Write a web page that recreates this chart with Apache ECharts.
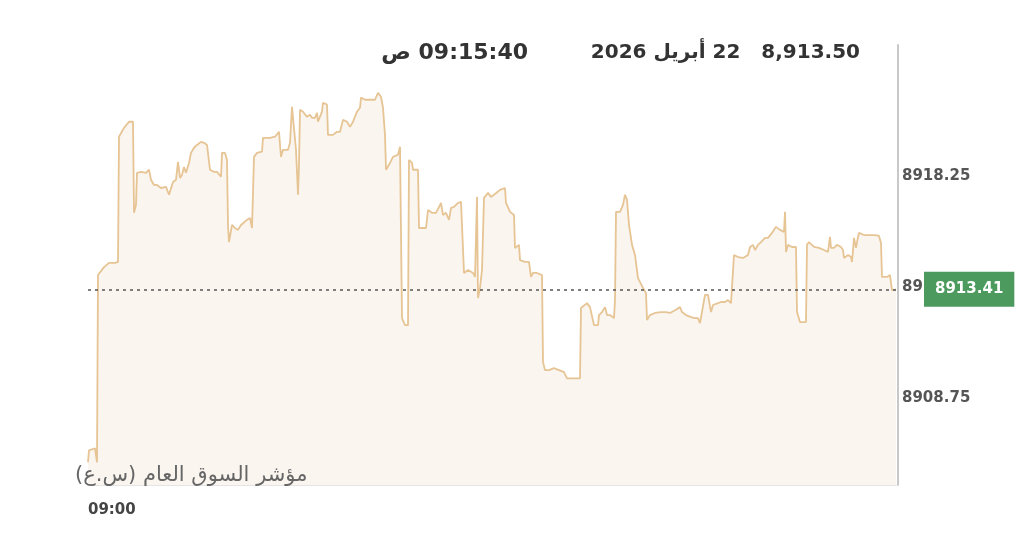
<!DOCTYPE html>
<html>
<head>
<meta charset="utf-8">
<script src="https://cdn.jsdelivr.net/npm/echarts@6/dist/echarts.min.js"></script>
<style>
  html, body { margin: 0; padding: 0; background: #fff; }
  #chart { width: 1024px; height: 554px; }
</style>
</head>
<body>
<div id="chart"></div>
<script>
// minutes since 09:00 and index value at that minute
const minutes = [
  0, 0.5, 3.5, 4.5, 5, 8, 10.5, 13.5, 15, 15.5, 18, 20.5, 22.5, 23, 24, 24.5, 26.5, 29, 30.5, 31.5,
  33, 34.5, 36.5, 39, 40.5, 41.5, 42.5, 44, 45, 46, 47, 48, 49, 50.5, 51.5, 53, 54.5, 56.5, 58, 59.5,
  60.5, 61, 63, 64.5, 66.5, 67, 68.5, 69.5, 70, 70.5, 72, 73.5, 75, 76.5, 77.5, 79.5, 81, 82, 82.5, 83,
  84.5, 87, 87.5, 91, 93.5, 95.5, 96.5, 97.5, 100, 101, 102, 103, 104, 105, 105.5, 106, 107.5, 109.5, 111, 112,
  113.5, 114.5, 115, 116, 117, 117.5, 118.5, 119.5, 120, 122.5, 124.5, 126, 127.5, 129.5, 131, 132.5, 134.5, 136, 136.5, 138.5,
  141, 143.5, 145, 146.5, 147.5, 148.5, 149, 151, 152.5, 155, 156, 157, 158.5, 160, 160.5, 162, 162.5, 165, 165.5, 167.5,
  169, 170, 172, 174, 176.5, 177.5, 179, 180.5, 181.5, 183, 185, 186.5, 187.5, 188, 190, 192.5, 193.5, 194.5, 195, 196,
  197, 198, 200, 201.5, 203, 206, 208.5, 209, 211, 213, 213.5, 215.5, 216, 218.5, 220.5, 221.5, 222.5, 224.5, 227, 227.5,
  228.5, 230.5, 233, 235.5, 238, 239.5, 242, 244, 246, 246.5, 249.5, 251, 253, 255, 255.5, 257, 258.5, 259.5, 261, 263,
  263.5, 264, 266, 267.5, 268.5, 269.5, 270.5, 272, 273.5, 275, 277.5, 279, 279.5, 281, 283.5, 286.5, 289, 291, 293.5, 296,
  297, 299, 301.5, 303.5, 305, 306, 307, 308.5, 310, 311.5, 312.5, 315, 316.5, 318.5, 320, 321.5, 323, 325, 327.5, 330,
  331, 332.5, 333.5, 335, 336.5, 338.5, 340, 342, 344, 346, 348, 348.5, 349, 350, 352, 354, 354.5, 356, 357.5, 359,
  359.5, 360.5, 363, 365.5, 368, 370, 371, 371.5, 373, 374.5, 376.5, 377.5, 378, 380, 381.5, 382, 383, 384, 385, 385.5,
  388, 391, 393.5, 395.5, 396.5, 397, 399.5, 401, 402, 404
];
const prices = [
  8906.02, 8906.53, 8906.62, 8906.02, 8914.02, 8914.36, 8914.54, 8914.54, 8914.58, 8919.93, 8920.31, 8920.57, 8920.57, 8916.68, 8917.02, 8918.39, 8918.43, 8918.39, 8918.52, 8918.09,
  8917.87, 8917.87, 8917.74, 8917.79, 8917.45, 8917.45, 8918.00, 8918.09, 8918.86, 8918.17, 8918.30, 8918.64, 8918.39, 8918.81, 8919.24, 8919.46, 8919.58, 8919.71, 8919.67, 8919.58,
  8919.50, 8918.52, 8918.43, 8918.43, 8918.22, 8919.24, 8919.24, 8918.94, 8916.16, 8915.43, 8916.16, 8916.03, 8915.95, 8916.16, 8916.16, 8916.38, 8916.46, 8916.03, 8916.03, 8919.07,
  8919.24, 8919.29, 8919.88, 8919.88, 8919.93, 8920.14, 8919.07, 8919.37, 8919.37, 8919.67, 8921.21, 8921.17, 8919.37, 8917.45, 8918.73, 8921.08, 8921.00, 8920.78, 8920.87, 8920.74,
  8920.74, 8920.95, 8920.57, 8920.57, 8921.00, 8921.38, 8921.42, 8921.30, 8920.01, 8920.01, 8920.14, 8920.14, 8920.65, 8920.57, 8920.35, 8920.57, 8921.00, 8921.17, 8921.60, 8921.51,
  8921.51, 8921.51, 8921.81, 8921.64, 8921.17, 8920.01, 8918.52, 8918.81, 8919.07, 8919.16, 8919.50, 8912.18, 8911.88, 8911.88, 8918.94, 8918.81, 8918.52, 8918.52, 8916.03, 8916.03,
  8916.03, 8916.80, 8916.68, 8916.68, 8917.10, 8916.59, 8916.68, 8916.38, 8916.89, 8916.93, 8917.10, 8917.15, 8917.23, 8914.11, 8914.24, 8914.11, 8913.94, 8917.36, 8913.04, 8913.47,
  8914.24, 8917.32, 8917.53, 8917.36, 8917.45, 8917.66, 8917.74, 8917.10, 8916.72, 8916.59, 8915.18, 8915.31, 8914.66, 8914.58, 8914.58, 8913.94, 8914.11, 8914.11, 8914.02, 8910.30,
  8909.96, 8909.96, 8910.04, 8909.96, 8909.87, 8909.61, 8909.61, 8909.61, 8909.61, 8912.61, 8912.82, 8912.65, 8911.88, 8911.88, 8912.31, 8912.44, 8912.65, 8912.31, 8912.31, 8912.18,
  8912.95, 8916.72, 8916.72, 8917.02, 8917.45, 8917.23, 8916.16, 8915.31, 8914.88, 8913.89, 8913.47, 8913.25, 8912.10, 8912.31, 8912.40, 8912.44, 8912.44, 8912.40, 8912.52, 8912.65,
  8912.44, 8912.31, 8912.22, 8912.18, 8912.18, 8911.97, 8912.05, 8913.17, 8913.17, 8912.44, 8912.74, 8912.82, 8912.87, 8912.87, 8912.95, 8912.82, 8914.88, 8914.79, 8914.75, 8914.88,
  8915.22, 8915.31, 8915.09, 8915.31, 8915.43, 8915.61, 8915.61, 8915.82, 8916.08, 8915.95, 8915.86, 8916.72, 8915.01, 8915.31, 8915.22, 8915.22, 8912.44, 8912.01, 8912.01, 8912.01,
  8915.31, 8915.43, 8915.22, 8915.18, 8915.09, 8915.01, 8915.65, 8915.18, 8915.18, 8915.31, 8915.22, 8915.09, 8914.75, 8914.88, 8914.79, 8914.58, 8915.61, 8915.18, 8915.65, 8915.82,
  8915.73, 8915.73, 8915.73, 8915.69, 8915.39, 8913.94, 8913.94, 8914.02, 8913.38, 8913.41
];

const yTicks = [8908.75, 8913.50, 8918.25];
const xTickMinutes = [0];
const xTickLabels = ['09:00'];

const lastPrice = prices[prices.length - 1];
const headerValue = '8,913.50';
const headerDate = '22 أبريل 2026';
const headerTime = '09:15:40 ص';
const indexName = 'مؤشر السوق العام (س.ع)';

// right-to-left embedding so the Arabic strings read in the right order
const rtl = s => '\u202B' + s + '\u202C';

const chart = echarts.init(document.getElementById('chart'));

const option = {
  animation: false,
  title: [
    {
      text: rtl(headerValue + '   ' + headerDate),
      right: 164,
      top: 43,
      padding: 0,
      textStyle: { fontFamily: 'DejaVu Sans', fontWeight: 'bold', fontSize: 20, color: '#333' }
    },
    {
      text: rtl(headerTime),
      right: 496,
      top: 42,
      padding: 0,
      textStyle: { fontFamily: 'DejaVu Sans', fontWeight: 'bold', fontSize: 22, color: '#333' }
    },
    {
      text: rtl(indexName),
      left: 75,
      top: 465,
      padding: 0,
      textStyle: { fontFamily: 'DejaVu Sans', fontWeight: 'normal', fontSize: 21, color: '#666' }
    }
  ],
  grid: { left: 88, right: 126, top: 45, bottom: 69 },
  xAxis: {
    type: 'value',
    min: 0,
    max: 405,
    axisLine: { onZero: false, lineStyle: { color: '#e4e4e4', width: 1 } },
    axisTick: { show: false },
    splitLine: { show: false },
    axisLabel: {
      customValues: xTickMinutes,
      formatter: v => xTickLabels[xTickMinutes.indexOf(v)] || '',
      align: 'left',
      margin: 18,
      fontFamily: 'DejaVu Sans',
      fontWeight: 'bold',
      fontSize: 15,
      color: '#444'
    }
  },
  yAxis: {
    type: 'value',
    position: 'right',
    min: 8905.05,
    max: 8923.85,
    axisLine: { show: true, onZero: false, lineStyle: { color: '#c8c8c8', width: 2 } },
    axisTick: { show: false },
    splitLine: { show: false },
    axisLabel: {
      customValues: yTicks,
      formatter: v => v.toFixed(2),
      margin: 4,
      fontFamily: 'DejaVu Sans',
      fontWeight: 'bold',
      fontSize: 15,
      color: '#555'
    }
  },
  series: [{
    type: 'line',
    data: minutes.map((m, i) => [m, prices[i]]),
    showSymbol: false,
    lineStyle: { color: '#e6c494', width: 1.8 },
    areaStyle: { color: '#faf5ef', opacity: 1, origin: 'start' },
    markLine: {
      silent: true,
      symbol: 'none',
      data: [{ yAxis: lastPrice }],
      lineStyle: { type: [3, 4], color: '#555', width: 1.5 },
      label: {
        position: 'end',
        distance: 26,
        formatter: () => lastPrice.toFixed(2),
        backgroundColor: '#4d9a5f',
        color: '#fff',
        fontFamily: 'DejaVu Sans',
        fontWeight: 'bold',
        fontSize: 15,
        padding: [10, 11, 10, 11]
      }
    }
  }]
};

chart.setOption(option);
</script>
</body>
</html>
